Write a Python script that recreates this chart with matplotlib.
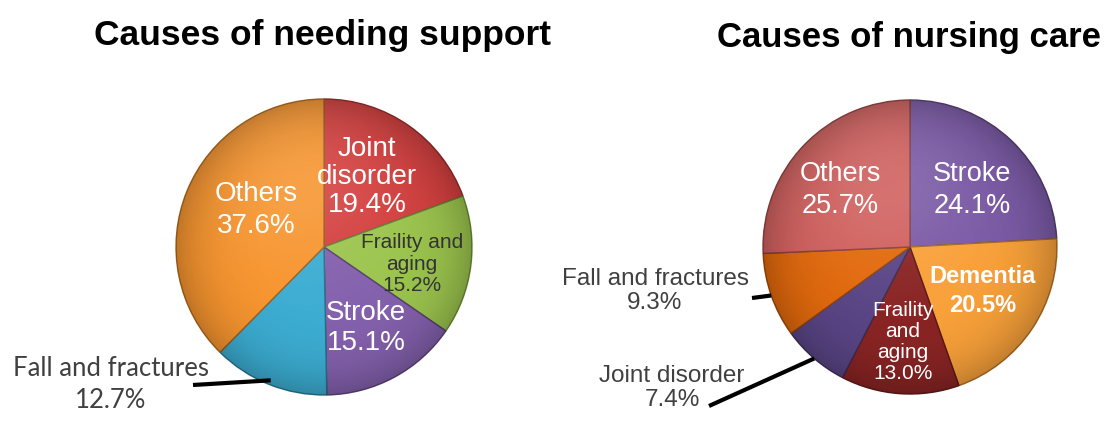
import numpy as np
import matplotlib.pyplot as plt
from matplotlib.colors import to_rgb
from matplotlib.patches import Circle

# data
support_causes = ["Joint disorder", "Fraility and aging", "Stroke", "Fall and fractures", "Others"]
support_share = [19.4, 15.2, 15.1, 12.7, 37.6]

care_causes = ["Stroke", "Dementia", "Fraility and aging", "Joint disorder", "Fall and fractures", "Others"]
care_share = [24.1, 20.5, 13.0, 7.4, 9.3, 25.7]

support_colors = ["#d4403f", "#9cc54e", "#8461ad", "#3cadd2", "#f7952f"]
care_colors = ["#7b5aa6", "#f9a13a", "#8a2424", "#5a4586", "#e2690d", "#d0605e"]

W, H = 1105, 430
fig = plt.figure(figsize=(W / 100, H / 100), dpi=100)
ax = fig.add_axes([0, 0, 1, 1])


def Y(y):
    # y measured from the top edge -> axes y
    return H - y


def shade(cx, cy, r):
    # gentle darkening towards the rim plus a soft highlight, clipped to the disc
    n = 300
    u, v = np.meshgrid(np.linspace(-1, 1, n), np.linspace(1, -1, n))
    d = np.sqrt(u ** 2 + v ** 2)
    dark = np.zeros((n, n, 4))
    dark[..., 3] = 0.22 * np.clip(d, 0, 1) ** 5
    light = np.ones((n, n, 4))
    light[..., 3] = 0.12 * np.exp(-((u + 0.15) ** 2 + (v - 0.45) ** 2) / 0.35)
    clip = Circle((cx, cy), r, transform=ax.transData)
    for img in (dark, light):
        im = ax.imshow(img, extent=[cx - r, cx + r, cy - r, cy + r], zorder=3,
                       interpolation="bilinear")
        im.set_clip_path(clip)


def draw_pie(values, colors, cx, cy, r):
    edges = [tuple(0.65 * c for c in to_rgb(col)) for col in colors]
    wedges, _ = ax.pie(values, colors=colors, startangle=90, counterclock=False,
                       center=(cx, cy), radius=r, frame=True,
                       wedgeprops=dict(linewidth=1.0))
    for w, e in zip(wedges, edges):
        w.set_edgecolor(e)
    shade(cx, cy, r)
    return wedges


def rim_point(w, frac=1.0):
    mid = np.deg2rad((w.theta1 + w.theta2) / 2)
    return (w.center[0] + frac * w.r * np.cos(mid), w.center[1] + frac * w.r * np.sin(mid))


arial = "Liberation Sans"
inner = dict(ha="center", va="center", family=arial, zorder=5)
outer = dict(ha="center", va="center", color="#404040", zorder=5)

# ---- needing support ----
lw = draw_pie(support_share, support_colors, 324, Y(247), 148)

ax.text(323, Y(36), "Causes of needing support", ha="center", va="center",
        fontsize=25.5, fontweight="bold", family=arial, color="black")

ax.text(367, Y(177), "Joint\ndisorder\n%.1f%%" % support_share[0], fontsize=20,
        color="white", linespacing=1.08, **inner)
ax.text(412, Y(264), "Fraility and\naging\n%.1f%%" % support_share[1], fontsize=15,
        color="#333333", linespacing=1.15, **inner)
ax.text(366, Y(328), "Stroke\n%.1f%%" % support_share[2], fontsize=20,
        color="white", linespacing=1.15, **inner)
ax.text(256, Y(210), "Others\n%.1f%%" % support_share[4], fontsize=20,
        color="white", linespacing=1.3, **inner)

ax.text(111, Y(385), "Fall and fractures\n%.1f%%" % support_share[3], fontsize=18.5,
        family="Lato", linespacing=1.35, **outer)
px, py = rim_point(lw[3], 0.97)
ax.plot([193, px], [Y(385), py], color="black", lw=3, solid_capstyle="butt", zorder=6)

# ---- nursing care ----
rw = draw_pie(care_share, care_colors, 910, Y(247), 147)

ax.text(909, Y(38), "Causes of nursing care", ha="center", va="center",
        fontsize=25, fontweight="bold", family=arial, color="black")

ax.text(972, Y(190), "Stroke\n%.1f%%" % care_share[0], fontsize=19.5,
        color="white", linespacing=1.3, **inner)
ax.text(983, Y(291), "Dementia\n%.1f%%" % care_share[1], fontsize=17,
        color="white", fontweight="bold", linespacing=1.3, **inner)
ax.text(903, Y(342), "Fraility\nand\naging\n%.1f%%" % care_share[2], fontsize=15,
        color="white", linespacing=1.12, **inner)
ax.text(840, Y(190), "Others\n%.1f%%" % care_share[5], fontsize=19.5,
        color="white", linespacing=1.3, **inner)

ax.text(655, Y(291), "Fall and fractures\n%.1f%%" % care_share[4], fontsize=17.5,
        family=arial, linespacing=1.15, **outer)
px, py = rim_point(rw[4], 1.0)
ax.plot([752, px], [Y(298), py], color="black", lw=3, solid_capstyle="butt", zorder=6)

ax.text(672, Y(388), "Joint disorder\n%.1f%%" % care_share[3], fontsize=17.5,
        family=arial, linespacing=1.15, **outer)
px, py = rim_point(rw[3], 1.0)
ax.plot([709, px], [Y(406), py], color="black", lw=3, solid_capstyle="butt", zorder=6)

ax.set_xlim(0, W)
ax.set_ylim(0, H)
ax.set_aspect("equal")
ax.axis("off")

fig.savefig("out.png", dpi=100)
